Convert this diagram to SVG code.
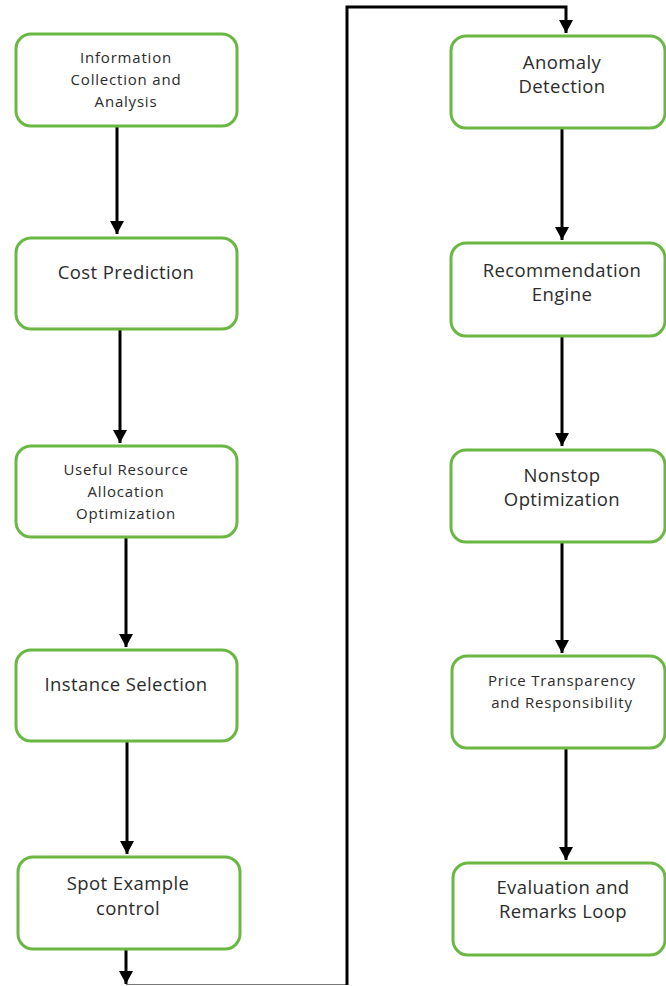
<svg xmlns="http://www.w3.org/2000/svg" width="666" height="986" viewBox="0 0 666 986">
<defs>
<style>
.box{fill:#fff;stroke:#6ab843;stroke-width:3}
.t{font-family:"Open Sans","Noto Sans","DejaVu Sans",sans-serif;fill:#2b2b2b;text-anchor:middle}
.s{font-size:15px;letter-spacing:0.8px}
.l{font-size:18.5px;letter-spacing:0.4px}
.c{fill:none;stroke:#000;stroke-width:3}
</style>
<marker id="ad" markerWidth="14" markerHeight="14" refX="7" refY="13" orient="0" markerUnits="userSpaceOnUse" viewBox="0 0 14 14">
<path d="M0,0 L14,0 L7,13 Z" fill="#000"/>
</marker>
</defs>
<rect width="666" height="986" fill="#fff"/>
<g id="connectors">
<path class="c" d="M117,126 V234" marker-end="url(#ad)"/>
<path class="c" d="M120,329 V443" marker-end="url(#ad)"/>
<path class="c" d="M126,538 V647" marker-end="url(#ad)"/>
<path class="c" d="M127,741 V854" marker-end="url(#ad)"/>
<path class="c" d="M126,950 V984" marker-end="url(#ad)"/>
<path d="M126,984.5 H347" stroke="#777" stroke-width="1" fill="none"/>
<path class="c" d="M347,985 V7 H566 V33" marker-end="url(#ad)"/>
<path class="c" d="M562,128 V240" marker-end="url(#ad)"/>
<path class="c" d="M562,336 V446" marker-end="url(#ad)"/>
<path class="c" d="M562,542 V653" marker-end="url(#ad)"/>
<path class="c" d="M566,748 V860" marker-end="url(#ad)"/>
</g>
<g id="n1"><rect class="box" x="16" y="34" width="221" height="92" rx="15"/>
<text class="t s" x="126" y="63">Information</text><text class="t s" x="126" y="85">Collection and</text><text class="t s" x="126" y="107">Analysis</text></g>
<g id="n2"><rect class="box" x="16" y="238" width="221" height="91" rx="15"/>
<text class="t l" x="126" y="279">Cost Prediction</text></g>
<g id="n3"><rect class="box" x="16" y="446" width="221" height="91" rx="15"/>
<text class="t s" x="126" y="475">Useful Resource</text><text class="t s" x="126" y="497">Allocation</text><text class="t s" x="126" y="519">Optimization</text></g>
<g id="n4"><rect class="box" x="16" y="650" width="221" height="91" rx="15"/>
<text class="t l" x="126" y="691">Instance Selection</text></g>
<g id="n5"><rect class="box" x="18" y="857" width="222" height="92" rx="15"/>
<text class="t l" x="128" y="890">Spot Example</text><text class="t l" x="128" y="915">control</text></g>
<g id="n6"><rect class="box" x="451" y="36" width="214" height="92" rx="15"/>
<text class="t l" x="562" y="69">Anomaly</text><text class="t l" x="562" y="93">Detection</text></g>
<g id="n7"><rect class="box" x="451" y="243" width="214" height="93" rx="15"/>
<text class="t l" x="562" y="277">Recommendation</text><text class="t l" x="562" y="301">Engine</text></g>
<g id="n8"><rect class="box" x="451" y="450" width="214" height="92" rx="15"/>
<text class="t l" x="562" y="482">Nonstop</text><text class="t l" x="562" y="506">Optimization</text></g>
<g id="n9"><rect class="box" x="452" y="656" width="213" height="92" rx="15"/>
<text class="t s" x="562" y="686">Price Transparency</text><text class="t s" x="562" y="708">and Responsibility</text></g>
<g id="n10"><rect class="box" x="453" y="863" width="212" height="92" rx="15"/>
<text class="t l" x="563" y="894">Evaluation and</text><text class="t l" x="563" y="918">Remarks Loop</text></g>
</svg>
